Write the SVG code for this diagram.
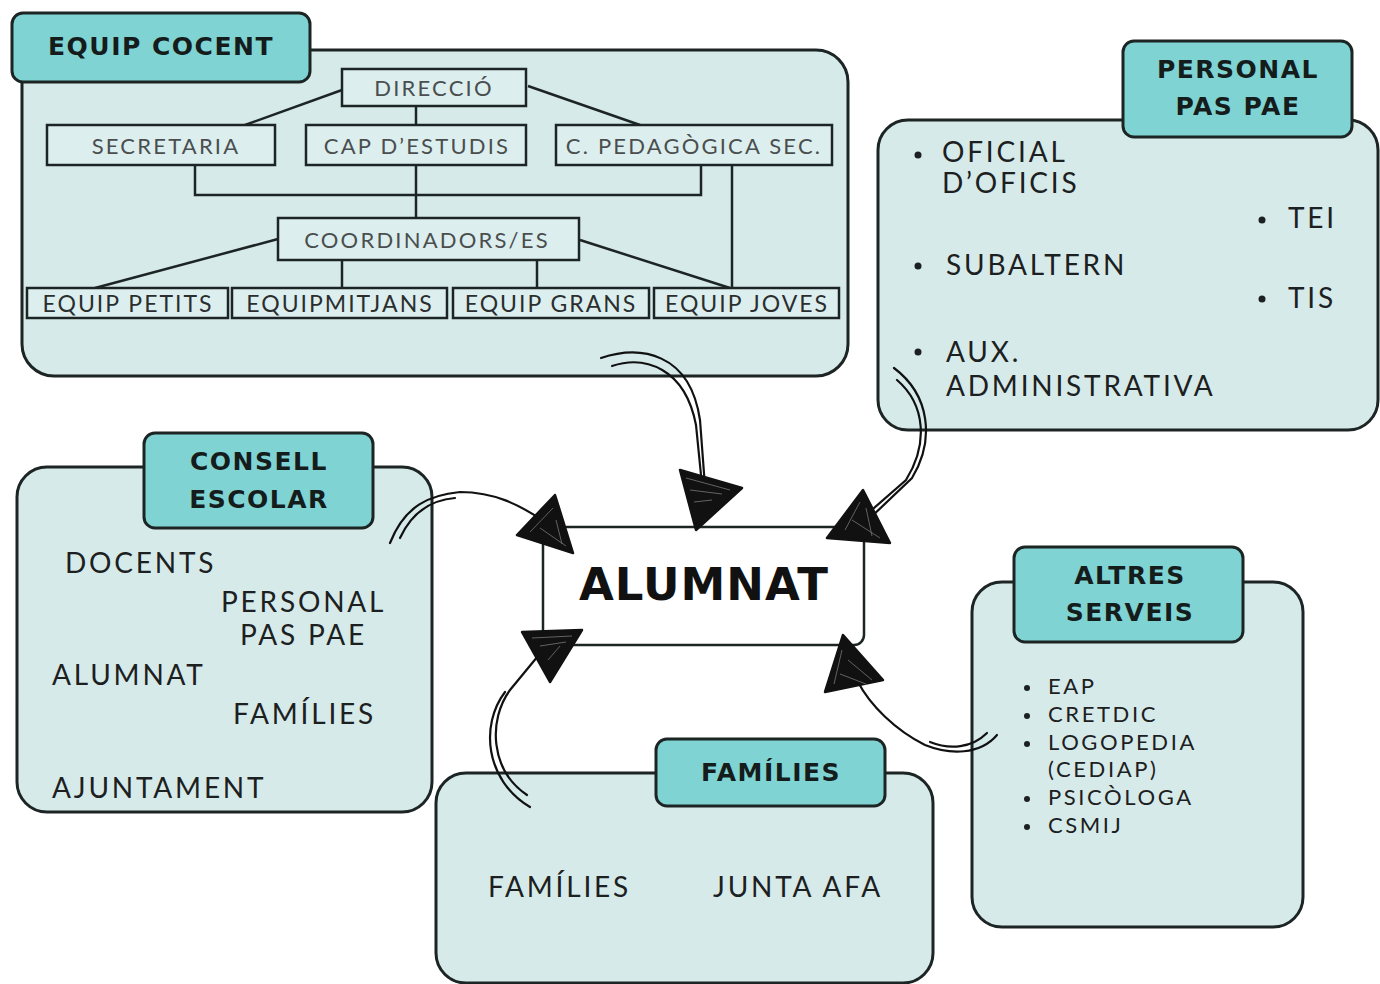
<svg xmlns="http://www.w3.org/2000/svg" width="1380" height="984" viewBox="0 0 1380 984">
<defs>
<style>
.panel{fill:#d6eaea;stroke:#1c2424;stroke-width:3}
.head{fill:#7fd4d3;stroke:#1c2424;stroke-width:3}
.hd{font-family:"DejaVu Sans",sans-serif;font-weight:bold;font-size:25px;fill:#151c1c;letter-spacing:1.5px;text-anchor:middle}
.org{fill:#ddeeee;stroke:#1c2424;stroke-width:2.5}
.ot{font-family:Lato,sans-serif;font-size:22px;fill:#4a4e4e;letter-spacing:2.2px;text-anchor:middle}
.ob{font-family:Lato,sans-serif;font-size:23px;fill:#2a2e2e;letter-spacing:2px;text-anchor:middle}
.tx{font-family:Lato,sans-serif;font-size:28px;fill:#1c2020;letter-spacing:2.8px}
.sm{font-family:Lato,sans-serif;font-size:22px;fill:#1c2020;letter-spacing:2.6px}
.ln{stroke:#1c2424;stroke-width:2.5;fill:none}
.cv{stroke:#111;stroke-width:2.2;fill:none;stroke-linecap:round}
.ah{fill:#111;stroke:#111;stroke-width:2.5;stroke-linejoin:round}
.sc{fill:none;stroke:#777;stroke-width:0.8}
</style>
</defs>
<rect width="1380" height="984" fill="#ffffff"/>

<g id="equip-cocent">
<rect class="panel" x="22" y="50" width="826" height="326" rx="32"/>
<rect class="head" x="12" y="13" width="298" height="69" rx="11"/>
<text class="hd" x="161" y="55" font-size="26">EQUIP COCENT</text>
</g>

<g id="org-connectors">
<path class="ln" d="M342,90 L245,125"/>
<path class="ln" d="M416,106 L416,125"/>
<path class="ln" d="M528,86 L640,125"/>
<path class="ln" d="M195,165 L195,195 L701,195 L701,165"/>
<path class="ln" d="M416,165 L416,218"/>
<path class="ln" d="M732,165 L732,290"/>
<path class="ln" d="M278,239 L95,288"/>
<path class="ln" d="M580,240 L730,288"/>
<path class="ln" d="M342,260 L342,288"/>
<path class="ln" d="M537,260 L537,288"/>
</g>

<g id="direccio"><rect class="org" x="342" y="69" width="184" height="37"/><text class="ot" x="434" y="96">DIRECCIÓ</text></g>
<g id="secretaria"><rect class="org" x="47" y="125" width="228" height="40"/><text class="ot" x="166" y="154">SECRETARIA</text></g>
<g id="cap-estudis"><rect class="org" x="306" y="125" width="220" height="40"/><text class="ot" x="417" y="154">CAP D’ESTUDIS</text></g>
<g id="c-pedagogica"><rect class="org" x="556" y="125" width="276" height="40"/><text class="ot" x="694" y="154" letter-spacing="2">C. PEDAGÒGICA SEC.</text></g>
<g id="coordinadors"><rect class="org" x="278" y="218" width="301" height="42"/><text class="ot" x="427" y="248" fill="#2a2e2e">COORDINADORS/ES</text></g>
<g id="equip-petits"><rect class="org" x="27" y="288" width="201" height="30"/><text class="ob" x="128" y="312">EQUIP PETITS</text></g>
<g id="equip-mitjans"><rect class="org" x="232" y="288" width="215" height="30"/><text class="ob" x="340" y="312">EQUIPMITJANS</text></g>
<g id="equip-grans"><rect class="org" x="453" y="288" width="196" height="30"/><text class="ob" x="551" y="312">EQUIP GRANS</text></g>
<g id="equip-joves"><rect class="org" x="654" y="288" width="185" height="30"/><text class="ob" x="747" y="312">EQUIP JOVES</text></g>

<g id="personal-pas-pae">
<rect class="panel" x="878" y="120" width="500" height="310" rx="30"/>
<rect class="head" x="1123" y="41" width="229" height="96" rx="11"/>
<text class="hd" x="1238" y="78">PERSONAL</text>
<text class="hd" x="1238" y="115">PAS PAE</text>
<circle cx="918" cy="155" r="3.5" fill="#1c2020"/>
<text class="tx" x="942" y="162">OFICIAL</text>
<text class="tx" x="942" y="193">D’OFICIS</text>
<circle cx="1262" cy="220" r="3.5" fill="#1c2020"/>
<text class="tx" x="1288" y="228">TEI</text>
<circle cx="918" cy="266" r="3.5" fill="#1c2020"/>
<text class="tx" x="946" y="275">SUBALTERN</text>
<circle cx="1262" cy="299" r="3.5" fill="#1c2020"/>
<text class="tx" x="1288" y="308">TIS</text>
<circle cx="918" cy="352" r="3.5" fill="#1c2020"/>
<text class="tx" x="946" y="362">AUX.</text>
<text class="tx" x="946" y="396">ADMINISTRATIVA</text>
</g>

<g id="consell-escolar">
<rect class="panel" x="17" y="467" width="415" height="345" rx="30"/>
<rect class="head" x="144" y="433" width="229" height="95" rx="11"/>
<text class="hd" x="259" y="470">CONSELL</text>
<text class="hd" x="259" y="508">ESCOLAR</text>
<text class="tx" x="65" y="573">DOCENTS</text>
<text class="tx" x="221" y="612">PERSONAL</text>
<text class="tx" x="240" y="645">PAS PAE</text>
<text class="tx" x="52" y="685">ALUMNAT</text>
<text class="tx" x="233" y="724">FAMÍLIES</text>
<text class="tx" x="52" y="798">AJUNTAMENT</text>
</g>

<g id="altres-serveis">
<rect class="panel" x="972" y="582" width="331" height="345" rx="30"/>
<rect class="head" x="1014" y="547" width="229" height="95" rx="11"/>
<text class="hd" x="1130" y="584">ALTRES</text>
<text class="hd" x="1130" y="621">SERVEIS</text>
<g fill="#1c2020">
<circle cx="1027" cy="688" r="3"/><circle cx="1027" cy="716" r="3"/><circle cx="1027" cy="744" r="3"/><circle cx="1027" cy="799" r="3"/><circle cx="1027" cy="827" r="3"/>
</g>
<text class="sm" x="1048" y="694">EAP</text>
<text class="sm" x="1048" y="722">CRETDIC</text>
<text class="sm" x="1048" y="750">LOGOPEDIA</text>
<text class="sm" x="1048" y="777">(CEDIAP)</text>
<text class="sm" x="1048" y="805">PSICÒLOGA</text>
<text class="sm" x="1048" y="833">CSMIJ</text>
</g>

<g id="families">
<rect class="panel" x="436" y="773" width="497" height="210" rx="30"/>
<rect class="head" x="656" y="739" width="229" height="67" rx="11"/>
<text class="hd" x="771" y="781">FAMÍLIES</text>
<text class="tx" x="488" y="897">FAMÍLIES</text>
<text class="tx" x="713" y="897">JUNTA AFA</text>
</g>

<g id="alumnat">
<rect x="543" y="527" width="321" height="118" rx="10" fill="#ffffff" stroke="#1c2424" stroke-width="2.5"/>
<text x="704" y="600" font-family="DejaVu Sans,sans-serif" font-weight="bold" font-size="45" fill="#111" letter-spacing="1" text-anchor="middle">ALUMNAT</text>
</g>

<g id="connectors">
<path class="cv" d="M601,358 C640,345 690,352 700,420 L706,500"/>
<path class="cv" d="M612,366 C645,355 685,368 696,425 L703,495"/>
<polygon class="ah" points="680,470 742,488 696,530"/>
<path class="sc" d="M686,478 L730,490 M690,490 L722,494 M694,502 L712,500"/>
<path class="cv" d="M894,368 C930,395 935,440 912,478 L868,520"/>
<path class="cv" d="M897,380 C926,405 928,445 906,480 L866,515"/>
<polygon class="ah" points="863,490 827,538 890,543"/>
<path class="sc" d="M860,502 L845,530 M866,508 L872,536 M852,520 L880,538"/>
<path class="cv" d="M390,543 C405,505 430,495 460,492 C495,492 520,505 545,522"/>
<path class="cv" d="M400,538 C412,512 432,500 455,498"/>
<polygon class="ah" points="555,495 517,535 573,553"/>
<path class="sc" d="M553,508 L530,532 M556,520 L562,544 M540,528 L566,546"/>
<path class="cv" d="M527,795 C490,770 488,720 510,690 L538,656"/>
<path class="cv" d="M530,807 C485,780 480,725 505,692"/>
<polygon class="ah" points="522,632 582,630 550,682"/>
<path class="sc" d="M532,638 L572,636 M540,646 L566,642 M548,660 L560,646"/>
<path class="cv" d="M997,735 C980,755 950,755 925,745 C895,730 870,705 858,682"/>
<path class="cv" d="M987,733 C972,748 950,750 930,742"/>
<polygon class="ah" points="843,635 825,692 883,680"/>
<path class="sc" d="M842,650 L834,684 M848,660 L872,680 M840,674 L866,684"/>
</g>
</svg>
